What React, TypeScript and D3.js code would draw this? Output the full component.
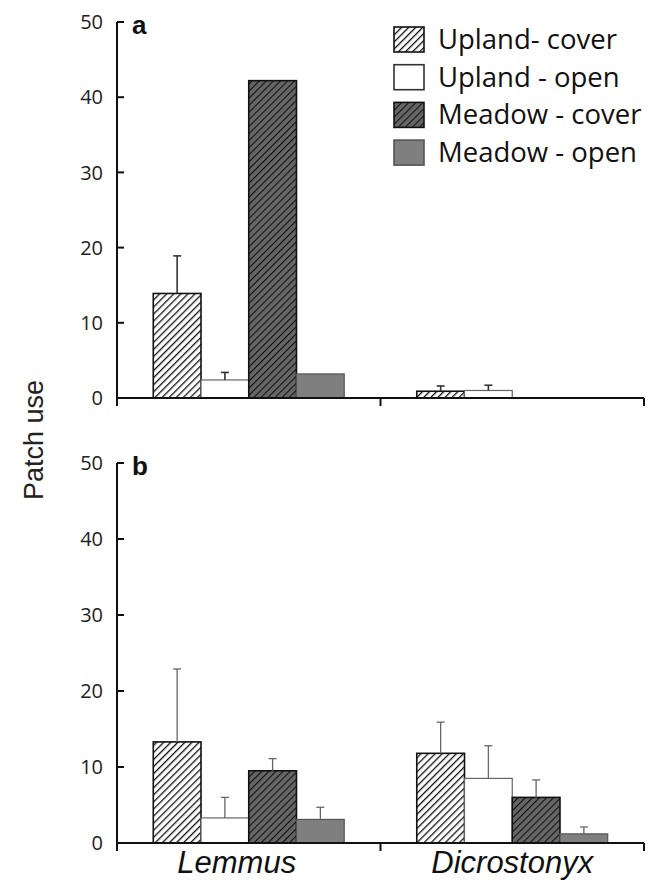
import React from "react";
import * as d3 from "d3";

const categories = ["Lemmus", "Dicrostonyx"];
const seriesNames = ["Upland- cover", "Upland - open", "Meadow - cover", "Meadow - open"];
const yTicks = [0, 10, 20, 30, 40, 50];

// Panel a: means and upper error (SE) per series, per category
const aUplandCover = [13.9, 0.9];
const aUplandOpen = [2.4, 1.0];
const aMeadowCover = [42.2, 0];
const aMeadowOpen = [3.2, 0];
const aErrUplandCover = [5.0, 0.7];
const aErrUplandOpen = [1.0, 0.7];
const aErrMeadowCover = [0, 0];
const aErrMeadowOpen = [0, 0];

// Panel b
const bUplandCover = [13.3, 11.8];
const bUplandOpen = [3.3, 8.5];
const bMeadowCover = [9.5, 6.0];
const bMeadowOpen = [3.1, 1.2];
const bErrUplandCover = [9.6, 4.1];
const bErrUplandOpen = [2.7, 4.3];
const bErrMeadowCover = [1.6, 2.3];
const bErrMeadowOpen = [1.6, 0.9];

const W = 649;
const H = 880;
const X0 = 117;
const X1 = 644;

const styles: Record<string, { fill: string; stroke: string; sw: number }> = {
  "Upland- cover": { fill: "url(#hatchLight)", stroke: "#111", sw: 1.6 },
  "Upland - open": { fill: "#ffffff", stroke: "#666", sw: 1.2 },
  "Meadow - cover": { fill: "url(#hatchDark)", stroke: "#111", sw: 1.6 },
  "Meadow - open": { fill: "#7f7f7f", stroke: "#555", sw: 1.2 },
};

type Panel = {
  label: string;
  y0: number;
  y1: number;
  means: number[][];
  errs: number[][];
  showCats: boolean;
  errColor: string;
  errWidth: number;
};

const panels: Panel[] = [
  {
    label: "a",
    y0: 398,
    y1: 22,
    means: [aUplandCover, aUplandOpen, aMeadowCover, aMeadowOpen],
    errs: [aErrUplandCover, aErrUplandOpen, aErrMeadowCover, aErrMeadowOpen],
    showCats: false,
    errColor: "#333",
    errWidth: 1.6,
  },
  {
    label: "b",
    y0: 843,
    y1: 463,
    means: [bUplandCover, bUplandOpen, bMeadowCover, bMeadowOpen],
    errs: [bErrUplandCover, bErrUplandOpen, bErrMeadowCover, bErrMeadowOpen],
    showCats: true,
    errColor: "#666",
    errWidth: 1.3,
  },
];

const x = d3.scaleBand<string>().domain(categories).range([X0, X1]).padding(0);
const xi = d3
  .scaleBand<string>()
  .domain(seriesNames)
  .range([0, x.bandwidth()])
  .paddingInner(0)
  .paddingOuter(0.76);

const tickFont = "'Open Sans', 'Noto Sans', sans-serif";
const arial = "'Liberation Sans', Arial, sans-serif";

function PanelView({ p }: { p: Panel }) {
  const y = d3.scaleLinear().domain([0, 50]).range([p.y0, p.y1]);
  return (
    <g>
      {categories.map((c, ci) =>
        seriesNames.map((s, si) => {
          const v = p.means[si][ci];
          if (!v) return null;
          const bx = (x(c) as number) + (xi(s) as number);
          const st = styles[s];
          return (
            <rect
              key={c + s}
              x={bx}
              y={y(v)}
              width={xi.bandwidth()}
              height={y(0) - y(v)}
              fill={st.fill}
              stroke={st.stroke}
              strokeWidth={st.sw}
            />
          );
        })
      )}
      {categories.map((c, ci) =>
        seriesNames.map((s, si) => {
          const v = p.means[si][ci];
          const e = p.errs[si][ci];
          if (!e) return null;
          const cx = (x(c) as number) + (xi(s) as number) + xi.bandwidth() / 2;
          return (
            <g key={"e" + c + s} stroke={p.errColor} strokeWidth={p.errWidth}>
              <line x1={cx} x2={cx} y1={y(v)} y2={y(v + e)} />
              <line x1={cx - 4} x2={cx + 4} y1={y(v + e)} y2={y(v + e)} />
            </g>
          );
        })
      )}
      <line x1={X0} x2={X0} y1={y(50)} y2={y(0) + 8} stroke="#111" strokeWidth={2} />
      {yTicks.map((t) => (
        <g key={t}>
          <line x1={X0} x2={X0 + 7} y1={y(t)} y2={y(t)} stroke="#111" strokeWidth={2} />
          <text
            x={X0 - 14}
            y={y(t)}
            dy="0.36em"
            textAnchor="end"
            fontFamily={tickFont}
            fontSize={20}
            fill="#222"
          >
            {t}
          </text>
        </g>
      ))}
      <line x1={X0} x2={X1} y1={y(0)} y2={y(0)} stroke="#111" strokeWidth={2} />
      {[X0, X0 + x.bandwidth(), X1].map((tx) => (
        <line key={tx} x1={tx} x2={tx} y1={y(0)} y2={y(0) + 8} stroke="#111" strokeWidth={2} />
      ))}
      {p.showCats &&
        categories.map((c, ci) => (
          <text
            key={c}
            x={(x(c) as number) + x.bandwidth() / 2 - (ci === 0 ? 12 : 0)}
            y={y(0) + 30}
            textAnchor="middle"
            fontFamily={arial}
            fontStyle="italic"
            fontSize={31}
            fill="#111"
          >
            {c}
          </text>
        ))}
      <text x={132} y={p.y1 + 12} fontFamily={arial} fontWeight="bold" fontSize={26} fill="#111">
        {p.label}
      </text>
    </g>
  );
}

export default function App() {
  const legendX = 394;
  const legendY = 27;
  const rowH = 37.7;
  return (
    <svg
      width={W}
      height={H}
      viewBox={`0 0 ${W} ${H}`}
      style={{ position: "absolute", left: 0, top: 0, background: "#fff" }}
    >
      <defs>
        <pattern id="hatchLight" patternUnits="userSpaceOnUse" width={5} height={5} patternTransform="rotate(45)">
          <rect width={5} height={5} fill="#fff" />
          <line x1={0} y1={0} x2={0} y2={5} stroke="#111" strokeWidth={2.6} />
        </pattern>
        <pattern id="hatchDark" patternUnits="userSpaceOnUse" width={5} height={5} patternTransform="rotate(45)">
          <rect width={5} height={5} fill="#666" />
          <line x1={0} y1={0} x2={0} y2={5} stroke="#111" strokeWidth={2.2} />
        </pattern>
      </defs>
      <rect width={W} height={H} fill="#fff" />
      {panels.map((p) => (
        <PanelView key={p.label} p={p} />
      ))}
      <text
        transform="translate(43,440) rotate(-90)"
        textAnchor="middle"
        fontFamily={arial}
        fontSize={27}
        fill="#222"
      >
        Patch use
      </text>
      {seriesNames.map((s, i) => {
        const st = styles[s];
        return (
          <g key={s} transform={`translate(${legendX},${legendY + i * rowH})`}>
            <rect
              x={0}
              y={0}
              width={30}
              height={25}
              fill={st.fill}
              stroke={s === "Upland - open" ? "#333" : st.stroke}
              strokeWidth={1.6}
            />
            <text x={44} y={12.5} dy="0.34em" fontFamily={tickFont} fontSize={27.5} fill="#111">
              {s}
            </text>
          </g>
        );
      })}
    </svg>
  );
}
